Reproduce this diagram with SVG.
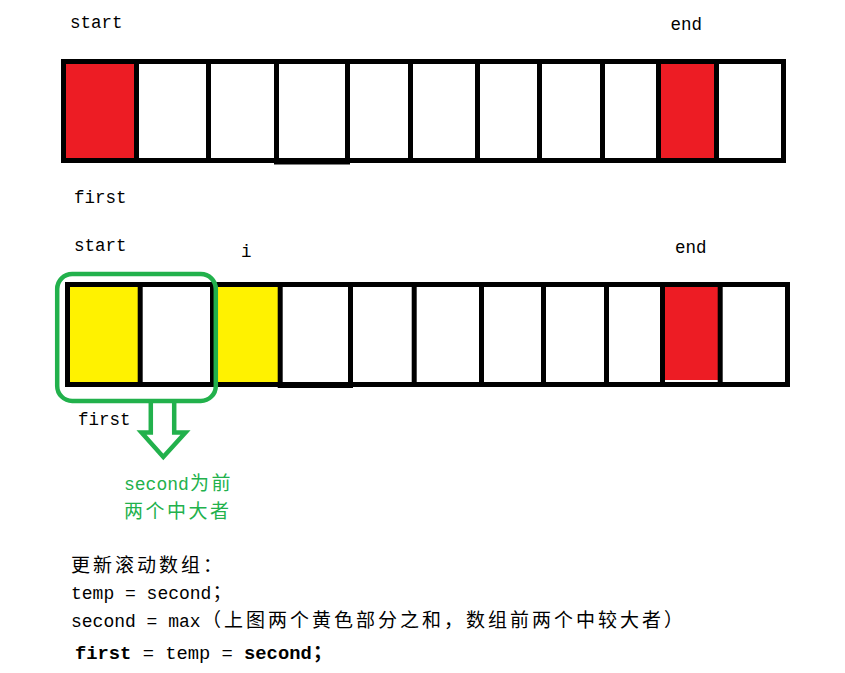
<svg xmlns="http://www.w3.org/2000/svg" width="845" height="673" viewBox="0 0 845 673">
<style>
.cell{fill:none;stroke:#000;stroke-width:5}
.div{stroke:#000;stroke-width:5}
.red{fill:#ed1c24}
.yel{fill:#fff200}
.lbl{font-family:"Liberation Mono","DejaVu Sans Mono",monospace;font-size:17.5px;fill:#000}
.mono{font-family:"Liberation Mono","DejaVu Sans Mono",monospace;font-size:18px}
.cjk{font-family:"Noto Sans CJK SC","Noto Sans CJK JP",sans-serif;font-size:19px;letter-spacing:2.5px}
.cjk2{font-family:"Noto Sans CJK SC","Noto Sans CJK JP",sans-serif;font-size:19px;letter-spacing:3px}
.txt{fill:#000}
.grn{fill:#22b14c}
.gline{fill:none;stroke:#22b14c;stroke-width:4.5}
</style>
<rect width="845" height="673" fill="#fff"/>

<g id="top-array">
  <rect class="red" x="66" y="64" width="69" height="95"/>
  <rect class="red" x="660" y="64" width="55" height="95"/>
  <rect class="cell" x="63.5" y="61.5" width="720" height="99"/>
  <rect x="274" y="158" width="76" height="6.5" fill="#000"/>
  <g class="div">
    <line x1="136.5" y1="61" x2="136.5" y2="161"/>
    <line x1="208.5" y1="61" x2="208.5" y2="161"/>
    <line x1="276.5" y1="61" x2="276.5" y2="164"/>
    <line x1="347.5" y1="61" x2="347.5" y2="164"/>
    <line x1="410.5" y1="61" x2="410.5" y2="161"/>
    <line x1="477.5" y1="61" x2="477.5" y2="161"/>
    <line x1="539.5" y1="61" x2="539.5" y2="161"/>
    <line x1="602.5" y1="61" x2="602.5" y2="161"/>
    <line x1="658.5" y1="61" x2="658.5" y2="161"/>
    <line x1="716.5" y1="61" x2="716.5" y2="161"/>
  </g>
</g>

<g id="bottom-array">
  <rect class="yel" x="70" y="287" width="69" height="95"/>
  <rect class="yel" x="214" y="287" width="65" height="96"/>
  <rect class="red" x="664" y="287" width="55" height="93"/>
  <rect class="cell" x="67.5" y="284.5" width="720" height="100"/>
  <rect x="278" y="382" width="75" height="6" fill="#000"/>
  <g class="div">
    <line x1="140.2" y1="284" x2="140.2" y2="385"/>
    <line x1="212.5" y1="284" x2="212.5" y2="385"/>
    <line x1="280.2" y1="284" x2="280.2" y2="388"/>
    <line x1="350.5" y1="284" x2="350.5" y2="388"/>
    <line x1="414.2" y1="284" x2="414.2" y2="385"/>
    <line x1="481.5" y1="284" x2="481.5" y2="385"/>
    <line x1="543.5" y1="284" x2="543.5" y2="385"/>
    <line x1="606.5" y1="284" x2="606.5" y2="385"/>
    <line x1="662.5" y1="284" x2="662.5" y2="385"/>
    <line x1="720.2" y1="284" x2="720.2" y2="385"/>
  </g>
</g>

<g id="group-box">
  <rect class="gline" x="57.2" y="273.9" width="158.6" height="127" rx="15" ry="15"/>
</g>

<g id="connectors">
  <polyline class="gline" stroke-width="5" stroke-linejoin="miter" points="150.8,401 150.8,432.5 141.5,432.5 163.3,457 185.5,432.5 174.2,432.5 174.2,401"/>
</g>

<g id="labels">
  <text class="lbl" x="70" y="28">start</text>
  <text class="lbl" x="670.5" y="30">end</text>
  <text class="lbl" x="74" y="202.7">first</text>
  <text class="lbl" x="74" y="251">start</text>
  <text class="lbl" x="241" y="257">i</text>
  <text class="lbl" x="675" y="252.7">end</text>
  <text class="lbl" x="78" y="425">first</text>
</g>

<g id="note">
  <text class="grn mono" x="124" y="490">second</text>
  <text class="grn cjk" x="190" y="490">为前</text>
  <text class="grn cjk" x="124" y="518">两个中大者</text>
</g>

<g id="code">
  <text class="txt cjk2" x="71" y="572">更新滚动数组：</text>
  <text class="txt mono" x="71" y="599">temp = second</text>
  <text class="txt cjk2" x="212.5" y="599">；</text>
  <text class="txt mono" x="71" y="626.7">second = max</text>
  <text class="txt cjk2" x="202" y="626.7">（上图两个黄色部分之和，数组前两个中较大者）</text>
  <text class="txt mono" x="75" y="659" style="font-size:18.8px"><tspan font-weight="bold">first</tspan> = temp = <tspan font-weight="bold">second</tspan></text>
  <text class="txt cjk2" x="313" y="659" style="font-weight:bold">；</text>
</g>
</svg>
